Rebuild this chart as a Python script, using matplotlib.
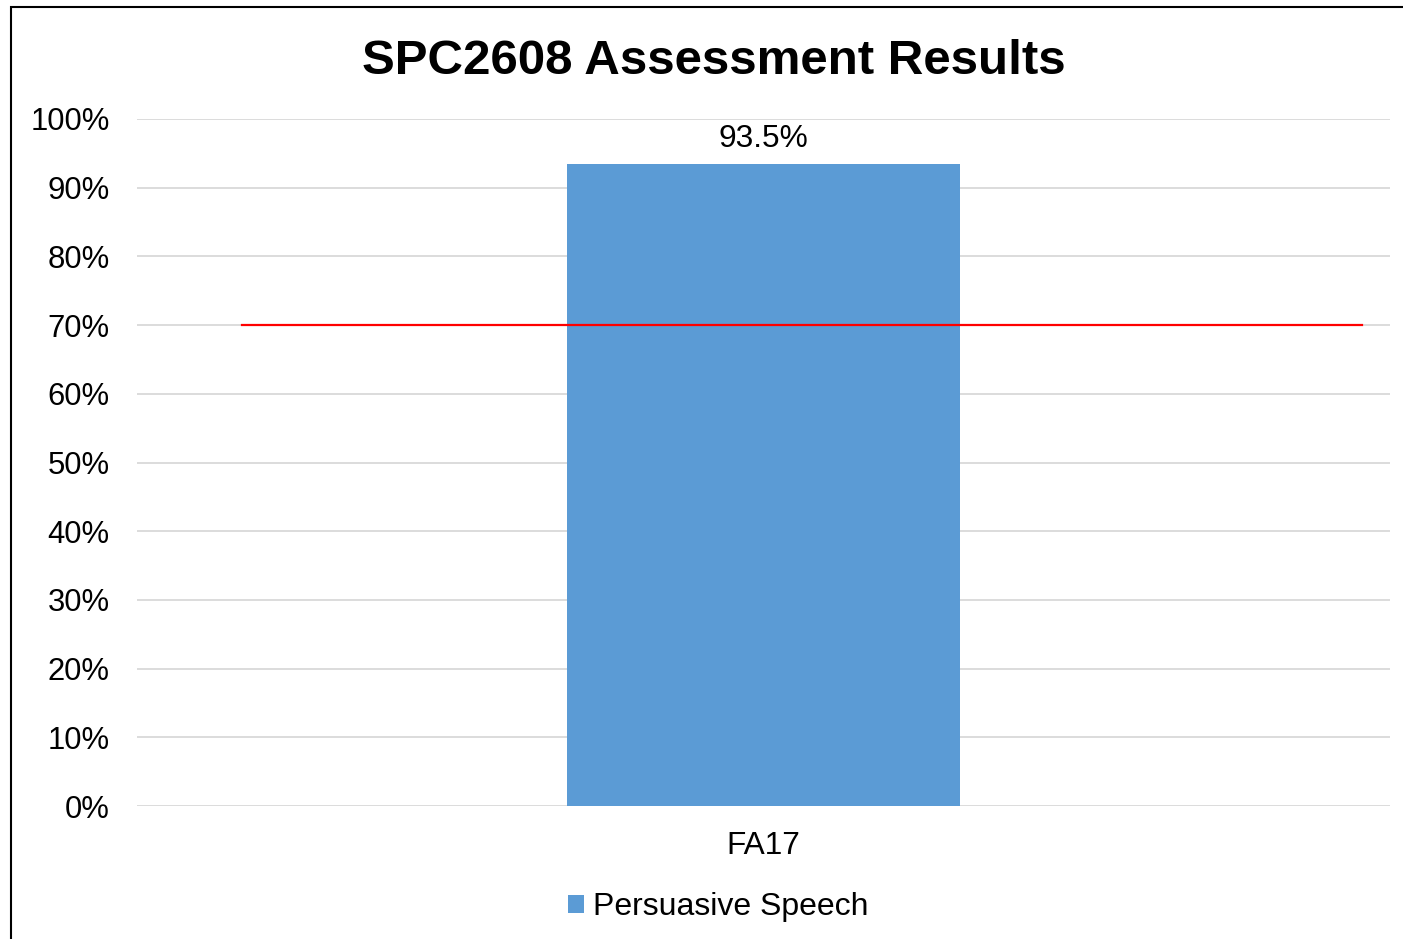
import matplotlib.pyplot as plt
from matplotlib.patches import Rectangle
from matplotlib.ticker import PercentFormatter

plt.rcParams['font.family'] = ['Liberation Sans', 'DejaVu Sans']

# data
categories = ['FA17']
series_name = 'Persuasive Speech'
values = [0.935]
target = 0.70
yticks = [i / 10 for i in range(11)]

fig = plt.figure(figsize=(14.03, 9.39), dpi=100)
ax = fig.add_axes([0.0976, 0.1416, 0.8931, 0.7317])

bars = ax.bar(categories, values, width=0.3137, color='#5B9BD5', label=series_name, zorder=3)
ax.set_xlim(-0.5, 0.5)
ax.set_ylim(0, 1)

# target line (drawn across most of the plot width, like the original)
ax.axhline(target, xmin=0.0838, xmax=0.978, color='#FF0000', linewidth=1.6, zorder=4)

for b, v in zip(bars, values):
    ax.annotate(f'{v * 100:.1f}%', (b.get_x() + b.get_width() / 2, v),
                xytext=(0, 7), textcoords='offset points',
                ha='center', va='bottom', fontsize=22.8)

ax.set_yticks(yticks)
ax.yaxis.set_major_formatter(PercentFormatter(1.0, decimals=0))
ax.grid(axis='y', color='#D9D9D9', linewidth=1.3, zorder=0)
ax.tick_params(axis='y', length=0, pad=19.5, labelsize=22.3)
ax.tick_params(axis='x', length=0, pad=18, labelsize=22.8)
for s in ax.spines.values():
    s.set_visible(False)

fig.suptitle('SPC2608 Assessment Results', x=0.509, y=0.935, va='center',
             fontsize=35.5, fontweight='bold')

fig.legend(loc='center', bbox_to_anchor=(0.512, 0.034), frameon=False,
           fontsize=23, handlelength=0.5, handleheight=0.5, handletextpad=0.3)

# chart border
fig.patches.append(Rectangle((0.0078, -0.1), 1.2, 1.0925, transform=fig.transFigure,
                             fill=False, edgecolor='black', linewidth=1.5))

fig.savefig('out.png', dpi=100)
